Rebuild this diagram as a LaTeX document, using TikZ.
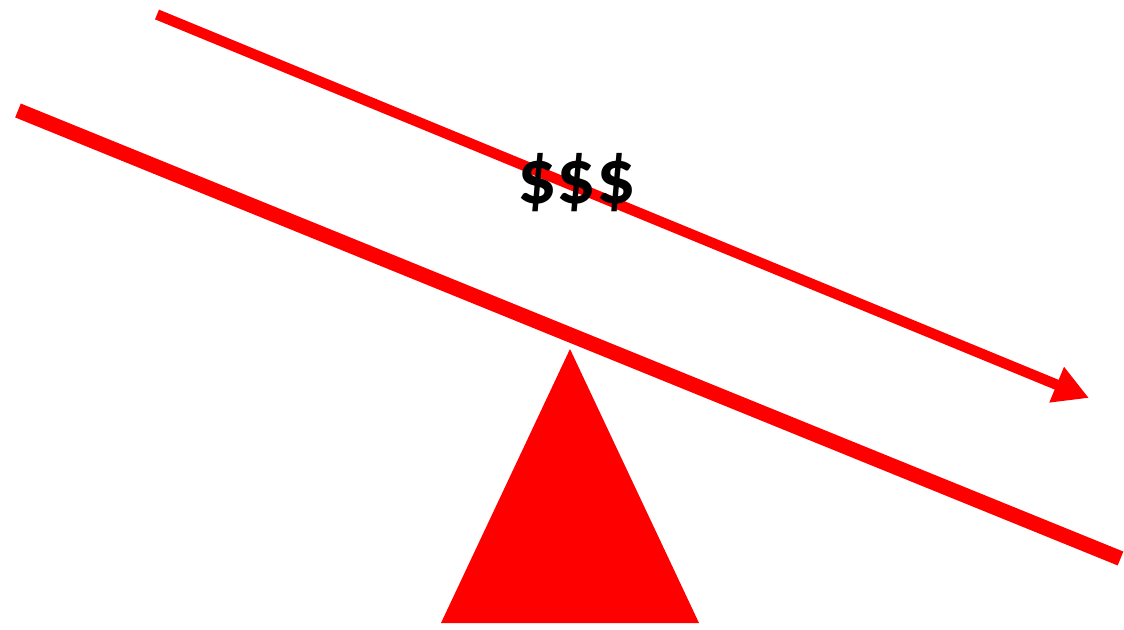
\documentclass[tikz,border=0pt]{standalone}
\usepackage{fontspec}
\setmainfont{Carlito}
\usetikzlibrary{arrows.meta}
\definecolor{seesawred}{RGB}{255,0,0}
\tikzset{
  beam/.style={draw=seesawred,line width=15pt},
  flow/.style={draw=seesawred,line width=10.5pt,-{Triangle[length=35pt,width=36pt]}},
  fulcrum/.style={fill=seesawred,draw=none},
  money/.style={font=\fontsize{78}{86}\selectfont\bfseries,text=black,inner sep=0pt}
}
\begin{document}
\begin{tikzpicture}[x=1pt,y=-1pt]
\useasboundingbox (0,0) rectangle (1124,629);
\coordinate (bl) at (18,110.5);
\coordinate (br) at (1120.5,558.5);
\coordinate (as) at (157,14.5);
\coordinate (ae) at (1089,398);
\coordinate (apex) at (570,349);
\coordinate (basel) at (441,623);
\coordinate (baser) at (699,623);
\draw[beam] (bl) -- (br);
\fill[fulcrum] (apex) -- (basel) -- (baser) -- cycle;
\draw[flow] (as) -- (ae);
\node[money] (dollars) at (576.5,183) {\$\$\$};
\end{tikzpicture}
\end{document}
